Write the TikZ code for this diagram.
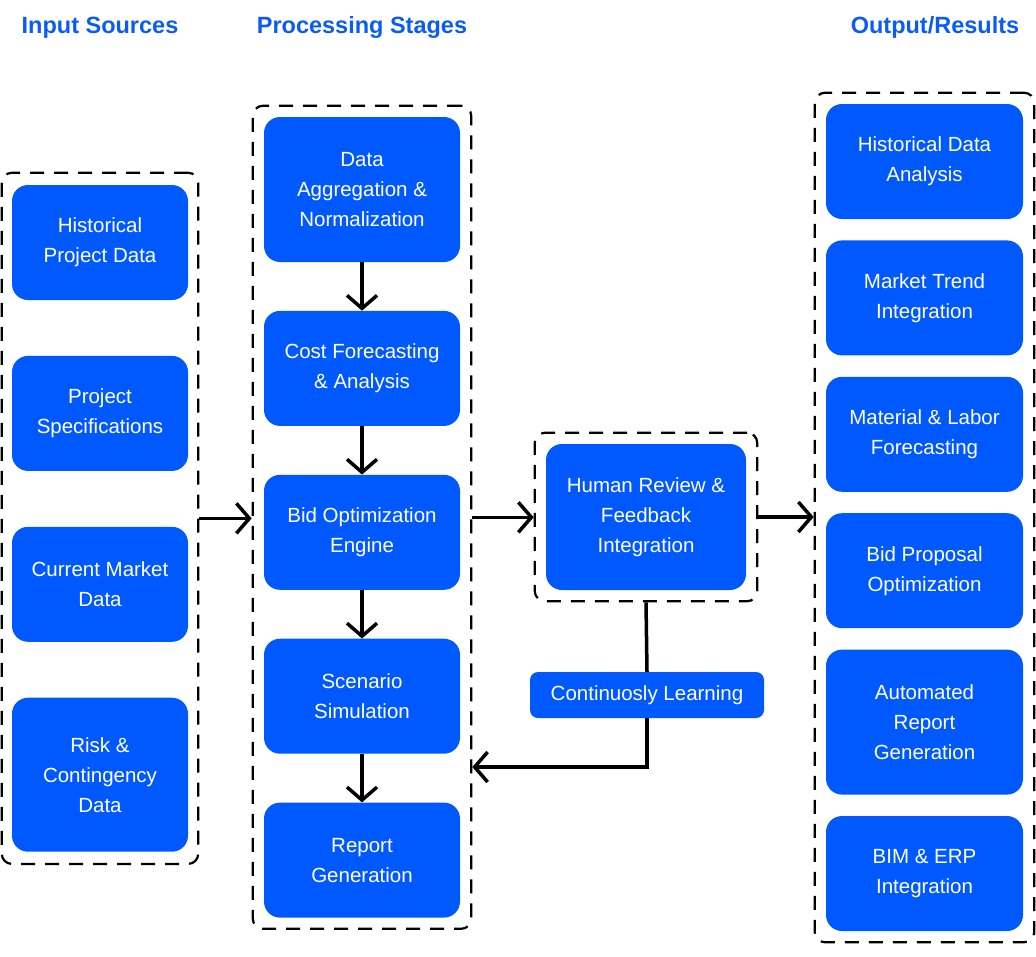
\documentclass[tikz,border=0pt]{standalone}
\usepackage{fontspec}
\setmainfont{Liberation Sans}
\usepackage{tikz}
\usetikzlibrary{positioning}
\usetikzlibrary{fit,arrows.meta}
\definecolor{boxblue}{HTML}{0059FF}
\definecolor{headblue}{HTML}{0A5CF5}

\begin{document}
\begin{tikzpicture}[x = 1pt, y = -1pt,
    box/.style = {fill = boxblue, text = white, rounded corners = 16pt, align = center,
        inner sep = 0pt, font = \fontsize{20.5}{30}\selectfont},
    inbox/.style = {box, minimum width = 176pt, minimum height = 115pt},
    stagebox/.style = {box, minimum width = 196pt, minimum height = 115pt},
    outbox/.style = {box, minimum width = 197pt, minimum height = 115pt},
    group/.style = {draw, line width = 2.2pt, dash pattern = on 14pt off 10pt,
        rounded corners = 10pt, inner sep = 11pt},
    head/.style = {text = headblue, font = \fontsize{23.5}{28}\bfseries\selectfont},
    flow/.style = {line width = 3.5pt, -{Straight Barb[length = 13pt, width = 30pt, line width = 3.5pt]}}
    ]
    \useasboundingbox (0,0) rectangle (1036,956);

    % headings
    \node[head] (hin)  at (100,27.5) {Input Sources};
    \node[head] (hpro) at (362,27.5) {Processing Stages};
    \node[head] (hout) at (935,27.5) {Output/Results};

    % input sources
    \node[inbox] (hist) at (100,242.5) {Historical\\Project Data};
    \node[inbox, below = 55.5pt of hist] (spec) {Project\\Specifications};
    \node[inbox, below = 55.5pt of spec] (market) {Current Market\\Data};
    \node[inbox, minimum height = 154pt, below = 55.5pt of market] (risk) {Risk \&\\Contingency\\Data};

    % processing stages
    \node[stagebox, minimum height = 145pt] (aggr) at (362,189.5) {Data\\Aggregation \&\\Normalization};
    \node[stagebox, below = 48.5pt of aggr] (cost) {Cost Forecasting\\\& Analysis};
    \node[stagebox, below = 48.5pt of cost] (bid) {Bid Optimization\\Engine};
    \node[stagebox, below = 48.5pt of bid] (scen) {Scenario\\Simulation};
    \node[stagebox, below = 48.5pt of scen] (report) {Report\\Generation};

    % review
    \node[box, minimum width = 200pt, minimum height = 146pt] (review) at (646,517) {Human Review \&\\Feedback\\Integration};
    \node[box, rounded corners = 8pt, minimum width = 234pt, minimum height = 46pt] (learn) at (647,695) {Continuosly Learning};

    % outputs
    \node[outbox] (hda) at (924.5,161.5) {Historical Data\\Analysis};
    \node[outbox, below = 21pt of hda] (trend) {Market Trend\\Integration};
    \node[outbox, below = 21pt of trend] (labor) {Material \& Labor\\Forecasting};
    \node[outbox, below = 21pt of labor] (prop) {Bid Proposal\\Optimization};
    \node[outbox, minimum height = 145pt, below = 21pt of prop] (auto) {Automated\\Report\\Generation};
    \node[outbox, below = 21pt of auto] (bim) {BIM \& ERP\\Integration};

    % dashed groups
    \node[group, inner xsep = 10pt, inner ysep = 12pt, fit = (hist) (risk)] (ingrp) {};
    \node[group, fit = (aggr) (report)] (progrp) {};
    \node[group, fit = (review)] (revgrp) {};
    \node[group, fit = (hda) (bim)] (outgrp) {};

    % connectors
    \coordinate (back) at (progrp.east |- 0,767);
    \draw[flow] (ingrp.east) -- (ingrp.east -| progrp.west);
    \draw[flow] (aggr) -- (cost);
    \draw[flow] (cost) -- (bid);
    \draw[flow] (bid) -- (scen);
    \draw[flow] (scen) -- (report);
    \draw[flow] (progrp.east) -- (progrp.east -| revgrp.west);
    \draw[flow] (revgrp.east) -- (revgrp.east -| outgrp.west);
    \draw[line width = 3.5pt] (revgrp.south) -- (learn.north);
    \draw[flow] (learn.south) |- (back);
\end{tikzpicture}
\end{document}
